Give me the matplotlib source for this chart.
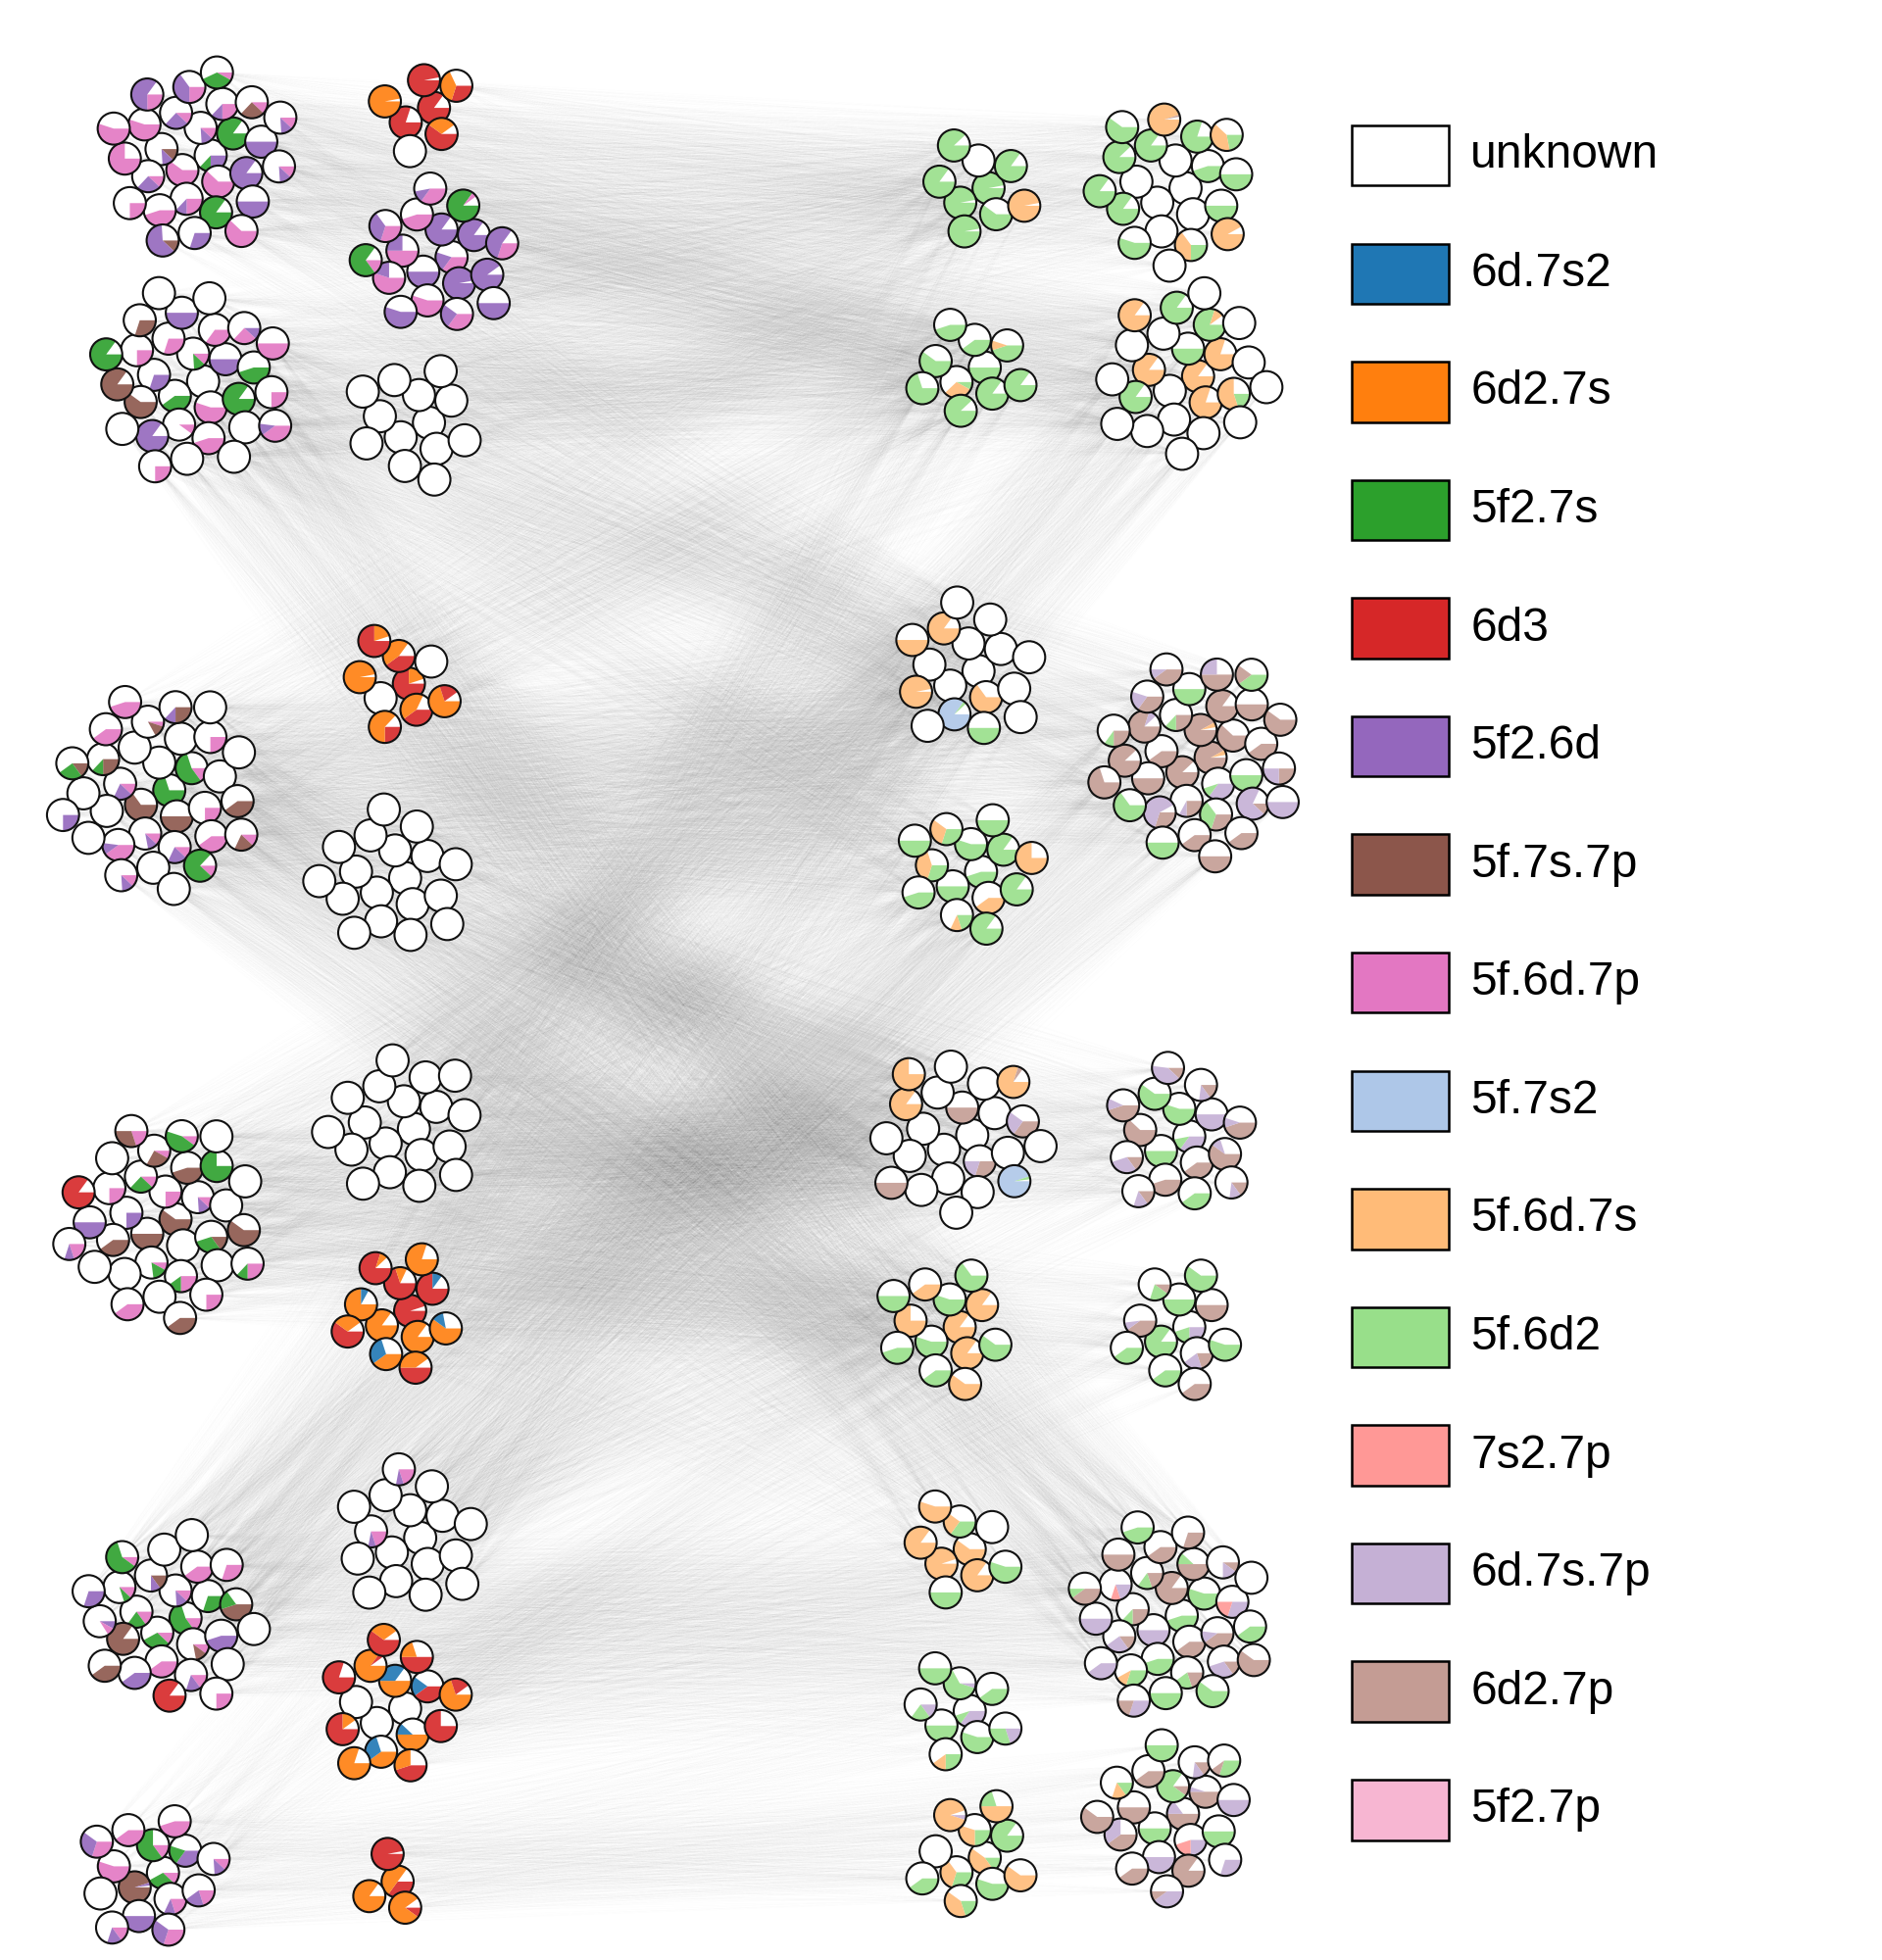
import re
import numpy as np
import matplotlib.pyplot as plt
from matplotlib.patches import Wedge, Circle, Rectangle
from matplotlib.collections import LineCollection

# configurations (legend order) and their one-letter codes used below
configs = ["unknown", "6d.7s2", "6d2.7s", "5f2.7s", "6d3", "5f2.6d", "5f.7s.7p",
           "5f.6d.7p", "5f.7s2", "5f.6d.7s", "5f.6d2", "7s2.7p", "6d.7s.7p",
           "6d2.7p", "5f2.7p"]
codes = ["", "B", "O", "G", "R", "V", "N", "P", "b", "o", "g", "r", "v", "n", "p"]
colors = ["#ffffff", "#1f77b4", "#ff7f0e", "#2ca02c", "#d62728", "#9467bd",
          "#8c564b", "#e377c2", "#aec7e8", "#ffbb78", "#98df8a", "#ff9896",
          "#c5b0d5", "#c49c94", "#f7b6d2"]

# node compositions: code + percent, drawn clockwise from 3 o'clock, rest unknown
L1 = ["V25G12", "P60", "P12V12", "P62", "N12V12", "G85", "P25V12", "P12V25",
      "V85", "P12V25", "P25V12", "G85", "P55", "V50", "P45", "P25V40", "V50",
      "P75", "P12N25", "V30", "P25V60", "P12V12", "P25", "P8G35", "P62", "P55",
      "P12V12", "N12V62"]
C1 = ["R85", "R80", "R97", "R60O30", "O97", "R30O38", ""]
C2 = ["P35V20", "V50", "V85", "V97", "P50V25", "V85", "P55", "P45", "V90",
      "P55V20", "G85P5", "P35V25", "P30V35", "P30V55", "V55", "P35V12", "V50",
      "P15G70"]
L2 = ["", "G40", "P12G12", "P55", "V30", "V50", "P10", "P30", "G85", "N60",
      "P35", "P45", "P25", "G45", "V85", "V50", "", "N85", "V12P25", "", "N30",
      "P25", "", "", "", "G85", "P50", "P25", "", "P40V12"]
C3 = [""] * 13
L3 = ["G70", "N65", "", "N50", "P12V20", "P15G55", "P12V10", "", "P25", "", "",
      "P12V20", "N25G12", "", "P40V12", "P5N12", "P40", "", "P25", "", "P40",
      "N40", "", "N25V12", "P12G75", "N15G25", "", "P12V12", "P45", "P12N20",
      "V25", "", ""]
C4 = ["R75O20", "", "R40O45", "R40O42", "O97", "", "R25O62", "R75O20", "O70R20"]
C5 = [""] * 18
L4 = ["N60", "N50", "P25", "", "V25", "P12V12", "P8G15", "P12G25", "N15G30",
      "N40", "N45", "P25G15", "P25", "", "", "P8N25", "", "V50", "G75", "", "",
      "N60", "", "P10G45", "P25", "R85", "", "P40", "P20N30", "P25G12", "P20V10",
      "", "N40"]
C6 = [""] * 19
C7 = ["R95", "O85", "R70O12", "O85", "O75B8", "R75B10", "O40B30", "R80O8",
      "O60B12", "R60O30", "O80", "R50O40"]
L5 = ["P15G55", "P12G30", "P12V12", "P10N12", "P15G20", "G30", "P40", "N15V10",
      "V45", "N85", "P40", "P15V15", "P12G8", "N45G20", "V40", "", "", "V8P8",
      "P30", "R85", "P10G60", "", "N40", "", "P25", "V30"]
C8 = ["", "", "", "", "P20V8", "", "", "", "", "", "", "", "", "", "", "P20V8", ""]
C9 = ["", "", "O50B35", "O50B12", "", "R40B20", "O40B30", "O85R5", "R75",
      "R75O15", "R50O20", "R45O30", "R80", "O70R20", "O80", "R60O30"]
L6 = ["P12G30", "N95V3", "P15G60", "P20V12", "P55", "V35G20", "V50", "P40",
      "P20V20", "", "P45", "P30V30", "P30V30", "P12V12", "P15V15"]
C10 = ["R35O50", "O85", "R97", "R10O80"]

R1 = ["g97", "g97", "", "g60", "g85", "g85", "g97", "g88", "o97"]
F1 = ["", "", "", "", "", "g45", "", "g85", "g50", "g85", "g80", "g25o40",
      "g88", "g50", "g55", "o95n2", "o92", "g85", "g22o40", "", "g60"]
R2 = ["g50", "g8o30", "g40", "g85", "g60", "g45o10", "g88", "g45", "g85", "g70"]
F2 = ["o85", "", "g50", "o80", "o85", "o80", "", "", "g20o55", "g85", "g80o10",
      "", "", "", "", "g85", "", "", "", "", "o85", "", "", ""]
R3 = ["", "", "", "o65", "", "", "b85g3", "o85", "", "o97", "", "g50", "o50",
      "", "", "", ""]
F3 = ["n92o5", "n88", "n92o5", "v35g10", "n40", "n62", "n25v8", "n25g12", "g50",
      "n50", "n85", "n30g35", "n80v8", "n40", "n30v62", "g50", "n12v70", "n88",
      "n50", "n40", "n35v20", "n25v25", "g65", "n50v25", "n40", "n25g10", "n60",
      "g50", "n40v10", "v50", "n70", "g40n20", "n50"]
R4 = ["g45", "g50", "g55", "o40", "g30o40", "g85", "g20o12", "g30o30", "g85",
      "g45", "g50", "g85", "g50", "o75"]
R5 = ["", "", "n50", "n30v20", "", "", "", "", "", "", "", "", "o85", "n35v25",
      "", "", "b95g3", "", "o80n5", "", "o75", "", "n50"]
F4 = ["v35g12", "g50", "g55", "n40", "n62", "v50", "n45", "g60", "n60v10",
      "n15v30", "n15v12", "g40", "n45v12", "n45v10", "n15v15", "n12v40", "n15v12"]
R6 = ["o85", "g55", "g55", "o85", "o75", "o85", "g40", "o40", "g60", "g45",
      "g65", "o60", "g50"]
F5 = ["v25g20", "g85", "g50", "n20v20", "n40v8", "n50", "g40", "n10g20", "g55",
      "g40", "g60", "n40"]
R7 = ["o60", "o95", "g35o25", "o85", "o85", "", "g50", "o55", "g55"]
R8 = ["v35g10", "g50", "v5g62", "g55", "v15g20", "g40", "g25o15", "g50", "v20g30"]
R9 = ["g15o45", "g30o35", "g25o30", "g55", "", "g85", "g20o40", "v5o90", "o60",
      "g40", "o50g20"]
F6 = ["g45", "v50", "n85", "n40", "n25g12", "g55", "g45", "n20g15", "n40v12",
      "n15v25", "n50g12", "n20g20", "v20r10", "v30r20", "g30o12", "n40", "n15v30",
      "v50", "n10v15", "g50", "n50", "g40", "v40", "n30", "g60", "n40g10", "",
      "v30n20", "g45", "n60"]
F7 = ["n50v15", "g50", "n10g75", "v25r20", "n50", "n50v5", "v50", "n40", "g50",
      "n40v35", "n15v12", "n85", "g15o15", "v50", "n40", "g50", "v30", "n60",
      "g30n10", "v40n10"]

clusters = {"L1": L1, "C1": C1, "C2": C2, "L2": L2, "C3": C3, "L3": L3, "C4": C4,
            "C5": C5, "L4": L4, "C6": C6, "C7": C7, "L5": L5, "C8": C8, "C9": C9,
            "L6": L6, "C10": C10, "R1": R1, "F1": F1, "R2": R2, "F2": F2,
            "R3": R3, "F3": F3, "R4": R4, "R5": R5, "F4": F4, "R6": R6, "F5": F5,
            "R7": R7, "R8": R8, "R9": R9, "F6": F6, "F7": F7}

# cluster-level links (every node of one cluster joined to every node of the other)
links = [("L1", "R1"), ("L1", "F1"), ("L1", "R2"), ("L1", "F2"), ("L1", "R3"),
         ("C1", "R1"), ("C1", "F1"), ("C1", "R2"),
         ("C2", "R1"), ("C2", "F1"), ("C2", "F2"), ("C2", "R2"),
         ("L2", "R1"), ("L2", "F2"), ("L2", "R2"), ("L2", "F3"), ("L2", "R4"),
         ("L2", "R7"), ("L2", "F6"),
         ("C3", "F1"), ("C3", "F2"), ("C3", "R3"),
         ("L3", "R1"), ("L3", "R2"), ("L3", "R3"), ("L3", "F3"), ("L3", "R4"),
         ("L3", "R5"), ("L3", "R6"), ("L3", "F6"),
         ("C4", "R3"), ("C4", "R4"), ("C4", "F2"), ("C4", "R2"),
         ("C5", "R3"), ("C5", "R5"), ("C5", "F4"), ("C5", "R4"),
         ("L4", "R3"), ("L4", "R4"), ("L4", "R5"), ("L4", "F4"), ("L4", "R6"),
         ("L4", "F5"),
         ("C6", "R2"), ("C6", "F2"), ("C6", "R5"), ("C6", "F4"), ("C6", "R7"),
         ("C7", "R5"), ("C7", "R6"), ("C7", "F5"), ("C7", "R7"), ("C7", "R1"),
         ("L5", "R4"), ("L5", "F3"), ("L5", "R6"), ("L5", "R7"), ("L5", "F6"),
         ("L5", "R2"), ("L5", "F2"),
         ("C8", "R3"), ("C8", "F3"), ("C8", "R5"), ("C8", "F4"),
         ("C9", "R6"), ("C9", "R7"), ("C9", "F6"), ("C9", "R8"), ("C9", "F5"),
         ("L6", "R8"), ("L6", "R9"), ("L6", "F7"), ("L6", "R6"), ("L6", "R4"),
         ("C10", "R8"), ("C10", "R9"), ("C10", "F7")]

# layout: cluster centres in a 1500 x 1562.5 canvas (y downwards)
centers = {"L1": (158, 124), "C1": (336, 86), "C2": (350, 205), "L2": (152, 304),
           "C3": (332, 337), "R1": (778, 150), "F1": (935, 150), "R2": (775, 293),
           "F2": (945, 300), "C4": (316, 545), "L3": (125, 630), "C5": (313, 700),
           "R3": (770, 535), "F3": (955, 604), "R4": (772, 695), "C6": (320, 900),
           "L4": (130, 972), "R5": (765, 905), "F4": (938, 906), "C7": (317, 1045),
           "R6": (755, 1058), "F5": (938, 1058), "C8": (325, 1226),
           "L5": (138, 1290), "R7": (763, 1235), "F6": (932, 1288),
           "C9": (313, 1362), "R8": (763, 1364), "F7": (933, 1446),
           "L6": (120, 1493), "C10": (307, 1500), "R9": (775, 1481)}

node_r = 12.8
spacing = 14.0
golden = np.pi * (3 - np.sqrt(5))

pos = {}
for name, nodes in clusters.items():
    cx, cy = centers[name]
    k = np.arange(len(nodes))
    rr = spacing * np.sqrt(k + 0.5)
    pos[name] = np.column_stack([cx + rr * np.cos(k * golden),
                                 cy + rr * np.sin(k * golden)])

fig = plt.figure(figsize=(19.2, 20), dpi=100)
ax = fig.add_axes([0, 0, 1, 1])
ax.set_xlim(0, 1500)
ax.set_ylim(1562.5, 0)
ax.axis("off")

segs = []
for a, b in links:
    for p in pos[a]:
        for q in pos[b]:
            segs.append([p, q])
ax.add_collection(LineCollection(segs, colors="#808080", linewidths=0.45,
                                 alpha=0.017, zorder=1))

tok = re.compile(r"([A-Za-z])(\d+)")
z = 2
for name, nodes in clusters.items():
    for (x, y), s in zip(pos[name], nodes):
        ax.add_patch(Circle((x, y), node_r, facecolor="white", edgecolor="none",
                            zorder=z))
        start = 0.0
        for c, v in tok.findall(s):
            f = int(v) / 100
            col = colors[codes.index(c)]
            ax.add_patch(Wedge((x, y), node_r, start * 360, (start + f) * 360,
                               facecolor=col, edgecolor="none", alpha=0.9,
                               zorder=z))
            start += f
        ax.add_patch(Circle((x, y), node_r, facecolor="none", edgecolor="#111111",
                            linewidth=1.5, zorder=z))
        z += 0.001

# legend
for i, (lab, col) in enumerate(zip(configs, colors)):
    top = 100 + i * 94.2
    ax.add_patch(Rectangle((1077, top), 78, 48, facecolor=col, edgecolor="black",
                           linewidth=1.8, zorder=5))
    ax.text(1172, top + 24, lab, fontsize=34.5, family="Liberation Sans",
            va="center", ha="left", zorder=5)

fig.savefig("out.png", dpi=100)
